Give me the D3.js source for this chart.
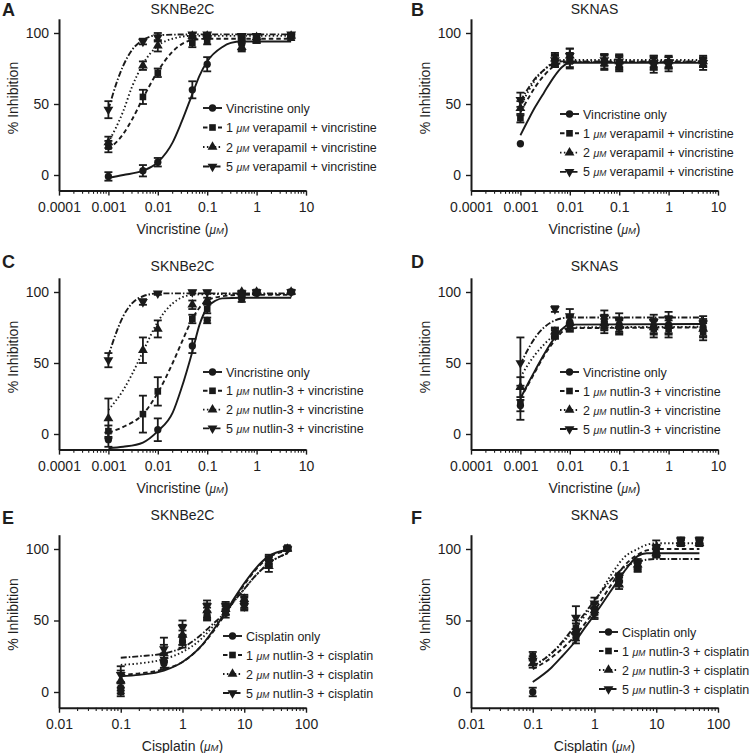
<!DOCTYPE html>
<html><head><meta charset="utf-8">
<script src="https://cdn.jsdelivr.net/npm/d3@7"></script>
<style>
body{margin:0;background:#fff}
svg{display:block}
text{font-family:'Liberation Sans',Arial,Helvetica,sans-serif;fill:#1e1e1e}
</style>
</head><body>
<svg id="chart" width="750" height="753"></svg>
<script>
// ---------------- DATA ----------------
const concVin = [0.001, 0.005, 0.01, 0.05, 0.1, 0.5, 1, 5];
const concCis = [0.1, 0.5, 1, 2.5, 5, 10, 25, 50];
const vinTicks = [0.0001, 0.001, 0.01, 0.1, 1, 10];
const vinTickLabels = ["0.0001", "0.001", "0.01", "0.1", "1", "10"];
const cisTicks = [0.01, 0.1, 1, 10, 100];
const cisTickLabels = ["0.01", "0.1", "1", "10", "100"];
const yTicks = [0, 50, 100];
const yTickLabels = ["0", "50", "100"];
const panelTitles = ["SKNBe2C", "SKNAS", "SKNBe2C", "SKNAS", "SKNBe2C", "SKNAS"];
const panelLetters = ["A", "B", "C", "D", "E", "F"];
const legendVerapamil = ["Vincristine only", "1 μM verapamil + vincristine", "2 μM verapamil + vincristine", "5 μM verapamil + vincristine"];
const legendNutlinVin = ["Vincristine only", "1 μM nutlin-3 + vincristine", "2 μM nutlin-3 + vincristine", "5 μM nutlin-3 + vincristine"];
const legendNutlinCis = ["Cisplatin only", "1 μM nutlin-3 + cisplatin", "2 μM nutlin-3 + cisplatin", "5 μM nutlin-3 + cisplatin"];

// means (4 series each: only, 1, 2, 5 uM)
const panelA_mean = [
  [-1, 3, 9, 60, 78, 92, 96, 97],
  [20, 55, 72, 93, 94, 97, 96, 98],
  [23, 77, 91, 98, 98, 90, 97, 98],
  [46, 94, 97, 99, 99, 98, 98, 99]];
const panelA_err = [
  [3, 4, 3, 6, 5, 4, 3, 2],
  [4, 5, 3, 3, 2, 2, 3, 1],
  [4, 3, 4, 2, 1, 3, 2, 1],
  [6, 2, 3, 1, 1, 1, 1, 1]];
const panelB_mean = [
  [22, 80, 81, 80, 79, 79, 79, 80],
  [40, 80, 80, 79, 78, 77, 77, 78],
  [47, 82, 84, 81, 80, 80, 80, 80],
  [53, 81, 84, 81, 80, 79, 79, 79]];
const panelB_err = [
  [0, 4, 5, 5, 5, 4, 4, 4],
  [3, 4, 5, 5, 5, 5, 4, 4],
  [5, 4, 5, 4, 4, 4, 4, 3],
  [5, 4, 5, 4, 5, 5, 4, 3]];
const panelC_mean = [
  [-4, null, 3, 62, 80, 95, 99, 100],
  [2, 14, 30, 81, 88, 99, 100, 100],
  [11, 59, 74, 91, 94, 100, 100, 100],
  [52, 93, 99, 100, 100, 99, 100, 100]];
const panelC_err = [
  [5, 0, 8, 5, 2, 2, 1, 1],
  [4, 13, 10, 3, 3, 1, 1, 1],
  [14, 9, 6, 3, 2, 1, 1, 1],
  [5, 2, 1, 1, 1, 1, 1, 1]];
const panelD_mean = [
  [20, 70, 79, 79, 77, 76, 77, 75],
  [22, 71, 77, 76, 75, 74, 74, 72],
  [33, 72, 78, 78, 76, 75, 76, 74],
  [50, 88, 83, 82, 80, 79, 81, 78]];
const panelD_err = [
  [4, 3, 5, 5, 5, 5, 6, 6],
  [12, 3, 5, 5, 5, 6, 6, 6],
  [7, 3, 5, 5, 5, 5, 6, 6],
  [18, 2, 5, 5, 5, 5, 5, 5]];
const panelE_mean = [
  [3, 20, 35, 53, 55, 62, 92, 100],
  [0, 22, 38, 55, 57, 63, 93, 101],
  [8, 27, 40, 57, 58, 65, 88, 100],
  [12, 30, 45, 60, 60, 60, 91, 100]];
const panelE_err = [
  [4, 4, 4, 3, 3, 4, 3, 1],
  [3, 5, 5, 4, 3, 4, 3, 1],
  [7, 6, 7, 5, 4, 3, 4, 1],
  [6, 8, 5, 4, 3, 3, 3, 1]];
const panelF_mean = [
  [0, 38, 55, 77, 88, 98, 106, 105],
  [25, 45, 58, 78, 87, 100, 105, 106],
  [20, 42, 57, 75, 89, 97, 104, 104],
  [22, 52, 62, 80, 90, 101, 106, 106]];
const panelF_err = [
  [3, 4, 4, 3, 3, 3, 2, 2],
  [3, 5, 4, 4, 3, 3, 2, 2],
  [3, 6, 5, 3, 3, 3, 2, 2],
  [3, 8, 4, 3, 3, 5, 2, 2]];

// fitted curves as [concentration, % inhibition]
const panelA_fit = [
  [[0.001,-2],[0.002,0],[0.005,3],[0.01,9],[0.02,23],[0.03,37],[0.05,57],[0.07,70],[0.1,80],[0.2,90],[0.3,93],[0.5,94],[1,94],[5,94]],
  [[0.001,18],[0.002,29],[0.003,39],[0.005,54],[0.01,73],[0.02,87],[0.03,92],[0.05,95],[0.1,96],[0.5,96],[5,96]],
  [[0.001,23],[0.002,45],[0.003,62],[0.005,78],[0.01,91],[0.02,96],[0.05,98],[0.5,98],[5,98]],
  [[0.001,46],[0.0015,66],[0.002,77],[0.003,88],[0.005,95],[0.01,98.5],[0.05,99],[5,99]]];
const panelB_fit = [
  [[0.001,28],[0.0015,40],[0.002,48],[0.003,58],[0.005,70],[0.007,76],[0.01,79],[5,79]],
  [[0.001,44],[0.0015,55],[0.002,62],[0.003,70],[0.005,77],[0.007,79],[0.01,79.5],[5,79.5]],
  [[0.001,48],[0.0015,60],[0.002,67],[0.003,74],[0.005,80],[0.007,81],[0.01,81],[5,81]],
  [[0.001,52],[0.0015,62],[0.002,68],[0.003,74],[0.005,79],[0.007,80],[0.01,80],[5,80]]];
const panelC_fit = [
  [[0.001,-10],[0.002,-9],[0.005,-6],[0.01,2],[0.02,15],[0.03,32],[0.05,58],[0.07,77],[0.1,89],[0.15,94],[0.2,95.5],[0.5,96],[5,96]],
  [[0.001,1],[0.002,5],[0.005,14],[0.01,29],[0.02,50],[0.03,64],[0.05,81],[0.07,89],[0.1,94],[0.2,97],[0.5,98],[5,98]],
  [[0.001,17],[0.002,31],[0.003,42],[0.005,58],[0.01,79],[0.02,92],[0.03,96],[0.05,98],[0.1,98.5],[5,98.5]],
  [[0.001,55],[0.0015,73],[0.002,83],[0.003,92],[0.005,97],[0.01,99],[5,99]]];
const panelD_fit = [
  [[0.001,25],[0.0015,37],[0.002,45],[0.003,56],[0.005,68],[0.007,74],[0.01,77],[5,77.5]],
  [[0.001,25],[0.0015,36],[0.002,44],[0.003,55],[0.005,66],[0.007,72],[0.01,74.5],[5,75]],
  [[0.001,40],[0.0015,50],[0.002,56],[0.003,63],[0.005,70],[0.007,73.5],[0.01,75],[5,75.5]],
  [[0.001,49],[0.0015,61],[0.002,68],[0.003,75],[0.005,80],[0.007,81.5],[0.01,82],[5,82]]];
const panelE_fit = [
  [[0.1,11],[0.2,12],[0.5,15],[1,21],[2,32],[3,42],[5,56],[7,66],[10,76],[15,86],[25,95],[50,99.5]],
  [[0.1,12],[0.2,13],[0.5,16],[1,21],[2,32],[3,41],[5,55],[7,65],[10,75],[15,85],[25,94],[50,99]],
  [[0.1,19],[0.2,20],[0.5,23],[1,28],[2,37],[3,45],[5,55],[7,64],[10,72],[15,81],[25,90],[50,97]],
  [[0.1,24],[0.2,25],[0.5,27],[1,31],[2,40],[3,47],[5,56],[7,64],[10,72],[15,81],[25,90],[50,97]]];
const panelF_fit = [
  [[0.1,7],[0.2,17],[0.3,25],[0.5,36],[0.7,45],[1,54],[1.5,65],[2,73],[3,84],[5,95],[7,97],[50,97]],
  [[0.1,16],[0.2,24],[0.5,40],[1,57],[2,77],[3,88],[5,96],[7,99],[10,100],[50,100]],
  [[0.1,18],[0.2,27],[0.5,45],[1,63],[2,84],[3,94],[5,100],[7,103],[10,104],[50,104]],
  [[0.1,18],[0.2,27],[0.5,47],[1,64],[2,80],[3,87],[5,91],[7,92.5],[10,93],[50,93]]];

// ---------------- LAYOUT ----------------
const svg = d3.select("#chart");
const INK = "#1a1a1a";
const cols = [{x0: 59, x1: 306, letterX: 2}, {x0: 471, x1: 718, letterX: 411}];
const rows = [
  {y0: 175, y100: 33, titleY: 14, letterY: 16},
  {y0: 434, y100: 292, titleY: 271, letterY: 268},
  {y0: 692, y100: 549, titleY: 520, letterY: 524}];
const dashes = [null, "4.5,3", "1.5,2.4", "6,2,1.5,2"];
const symbols = [d3.symbolCircle, d3.symbolSquare, d3.symbolTriangle, d3.symbolTriangle];
const symSize = [42, 44, 42, 42];
const symRot = [0, 0, 0, 180];

const panels = [
  {mean: panelA_mean, err: panelA_err, fit: panelA_fit, conc: concVin, ticks: vinTicks, tickLabels: vinTickLabels, dom: [1e-4, 10], xTitle: "Vincristine", legend: legendVerapamil, lx: 203, ly: 108, ldy: 19.5},
  {mean: panelB_mean, err: panelB_err, fit: panelB_fit, conc: concVin, ticks: vinTicks, tickLabels: vinTickLabels, dom: [1e-4, 10], xTitle: "Vincristine", legend: legendVerapamil, lx: 560, ly: 114, ldy: 19.3},
  {mean: panelC_mean, err: panelC_err, fit: panelC_fit, conc: concVin, ticks: vinTicks, tickLabels: vinTickLabels, dom: [1e-4, 10], xTitle: "Vincristine", legend: legendNutlinVin, lx: 203, ly: 372, ldy: 18.8},
  {mean: panelD_mean, err: panelD_err, fit: panelD_fit, conc: concVin, ticks: vinTicks, tickLabels: vinTickLabels, dom: [1e-4, 10], xTitle: "Vincristine", legend: legendNutlinVin, lx: 560, ly: 372, ldy: 19},
  {mean: panelE_mean, err: panelE_err, fit: panelE_fit, conc: concCis, ticks: cisTicks, tickLabels: cisTickLabels, dom: [0.01, 100], xTitle: "Cisplatin", legend: legendNutlinCis, lx: 223, ly: 636, ldy: 19},
  {mean: panelF_mean, err: panelF_err, fit: panelF_fit, conc: concCis, ticks: cisTicks, tickLabels: cisTickLabels, dom: [0.01, 100], xTitle: "Cisplatin", legend: legendNutlinCis, lx: 599, ly: 632, ldy: 19}];

function muText(sel, str) {
  const parts = str.split("μM");
  sel.append("tspan").text(parts[0]);
  if (parts.length > 1) {
    sel.append("tspan").attr("font-style", "italic").attr("font-size", "0.85em").text("μ");
    sel.append("tspan").attr("font-style", "italic").attr("font-size", "0.68em").text("M");
    sel.append("tspan").text(parts[1]);
  }
}

function marker(g, i, cx, cy) {
  g.append("path")
    .attr("d", d3.symbol().type(symbols[i]).size(symSize[i]))
    .attr("transform", `translate(${cx},${cy}) rotate(${symRot[i]})`)
    .attr("fill", INK);
}

panels.forEach((p, pi) => {
  const col = cols[pi % 2], row = rows[Math.floor(pi / 2)];
  const k = (row.y0 - row.y100) / 100;
  const x = d3.scaleLog().domain(p.dom).range([col.x0, col.x1]);
  const y = d3.scaleLinear().domain([-11, 110]).range([row.y0 + 11 * k, row.y100 - 10 * k]);
  const g = svg.append("g");
  const axisY = y(-11);

  // x axis
  const xa = g.append("g").attr("transform", `translate(0,${axisY})`)
    .call(d3.axisBottom(x).tickValues(p.ticks).tickFormat((d, i) => p.tickLabels[i])
      .tickSize(5).tickSizeOuter(0).tickPadding(6));
  // minor ticks
  const minor = [];
  p.ticks.slice(0, -1).forEach(t => { for (let m = 2; m <= 9; m++) minor.push(t * m); });
  xa.selectAll(".minor").data(minor).join("line").attr("class", "minor")
    .attr("x1", d => x(d)).attr("x2", d => x(d)).attr("y1", 0).attr("y2", 3.2)
    .attr("stroke", INK).attr("stroke-width", 1.1);
  // y axis
  const ya = g.append("g").attr("transform", `translate(${col.x0},0)`)
    .call(d3.axisLeft(y).tickValues(yTicks).tickFormat((d, i) => yTickLabels[i])
      .tickSize(5).tickSizeOuter(0).tickPadding(5));
  [xa, ya].forEach(a => {
    a.select(".domain").attr("stroke", INK).attr("stroke-width", 2);
    a.selectAll(".tick line").attr("stroke", INK).attr("stroke-width", 1.4);
    a.selectAll(".tick text").attr("font-size", 14).attr("fill", INK)
      .attr("font-family", "'Liberation Sans',Arial,sans-serif");
  });

  // titles
  g.append("text").attr("x", (col.x0 + col.x1) / 2).attr("y", row.titleY)
    .attr("text-anchor", "middle").attr("font-size", 14).text(panelTitles[pi]);
  g.append("text").attr("x", col.letterX).attr("y", row.letterY)
    .attr("font-size", 18).attr("font-weight", "bold").text(panelLetters[pi]);
  g.append("text").attr("transform", `translate(${col.x0 - 41},${(y(0) + y(100)) / 2 - 6}) rotate(-90)`)
    .attr("text-anchor", "middle").attr("font-size", 14).text("% Inhibition");
  const xt = g.append("text").attr("x", (col.x0 + col.x1) / 2).attr("y", axisY + 43)
    .attr("text-anchor", "middle").attr("font-size", 14);
  muText(xt, p.xTitle + " (μM)");

  // fitted curves
  const line = d3.line().x(d => x(d[0])).y(d => y(d[1])).curve(d3.curveMonotoneX);
  p.fit.forEach((f, si) => {
    g.append("path").attr("d", line(f)).attr("fill", "none").attr("stroke", INK)
      .attr("stroke-width", 1.9).attr("stroke-dasharray", dashes[si]);
  });

  // error bars + markers
  p.mean.forEach((ser, si) => {
    ser.forEach((m, j) => {
      if (m === null) return;
      const cx = x(p.conc[j]);
      const e = p.err[si][j];
      if (e > 0) {
        const y1 = y(Math.max(m - e, -11)), y2 = y(m + e);
        g.append("line").attr("x1", cx).attr("x2", cx).attr("y1", y1).attr("y2", y2)
          .attr("stroke", INK).attr("stroke-width", 1.8);
        [y1, y2].forEach(yy => g.append("line").attr("x1", cx - 4).attr("x2", cx + 4)
          .attr("y1", yy).attr("y2", yy).attr("stroke", INK).attr("stroke-width", 1.8));
      }
    });
  });
  p.mean.forEach((ser, si) => {
    ser.forEach((m, j) => { if (m !== null) marker(g, si, x(p.conc[j]), y(m)); });
  });

  // legend
  p.legend.forEach((lab, i) => {
    const ly = p.ly + i * p.ldy;
    g.append("line").attr("x1", p.lx).attr("x2", p.lx + 19).attr("y1", ly).attr("y2", ly)
      .attr("stroke", INK).attr("stroke-width", 1.9).attr("stroke-dasharray", dashes[i]);
    marker(g, i, p.lx + 9.5, ly);
    const t = g.append("text").attr("x", p.lx + 23).attr("y", ly).attr("dy", "0.36em")
      .attr("font-size", 12.5);
    muText(t, lab);
  });
});
</script>
</body></html>
